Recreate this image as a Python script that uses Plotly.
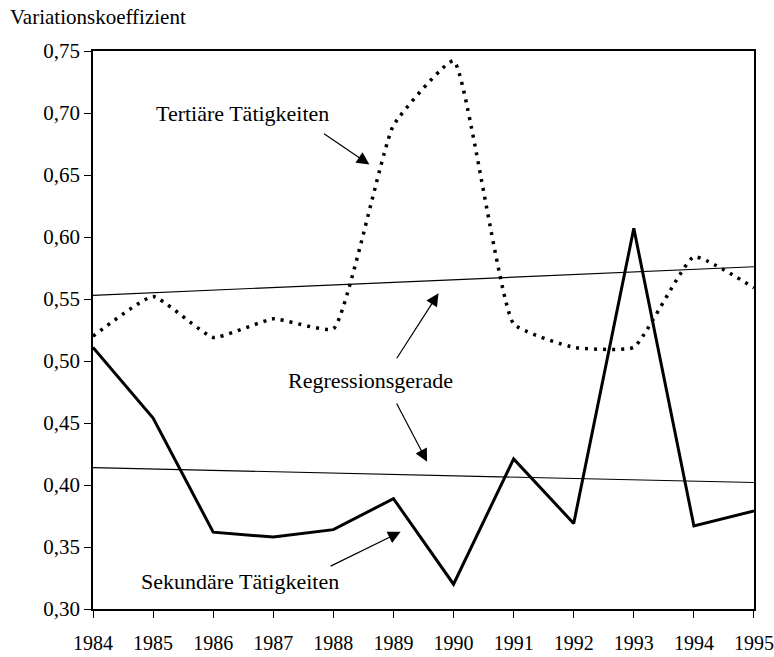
import plotly.graph_objects as go

# values
years = list(range(1984, 1996))
sekundaer = [0.511, 0.454, 0.362, 0.358, 0.364, 0.389, 0.320, 0.421, 0.369, 0.607, 0.367, 0.379]
tertiaer = [0.520, 0.552, 0.519, 0.534, 0.526, 0.690, 0.742, 0.530, 0.511, 0.511, 0.584, 0.559]

# regression lines, endpoints at 1984 and 1995
reg_years = [1984, 1995]
reg_tertiaer = [0.553, 0.576]
reg_sekundaer = [0.414, 0.402]

y_ticks = [0.30, 0.35, 0.40, 0.45, 0.50, 0.55, 0.60, 0.65, 0.70, 0.75]

FONT = "Liberation Serif"

fig = go.Figure()

fig.add_trace(go.Scatter(x=reg_years, y=reg_tertiaer, mode='lines',
                         line=dict(color='black', width=1.2), showlegend=False))
fig.add_trace(go.Scatter(x=reg_years, y=reg_sekundaer, mode='lines',
                         line=dict(color='black', width=1.2), showlegend=False))
fig.add_trace(go.Scatter(x=years, y=tertiaer, mode='lines',
                         line=dict(color='black', width=3.5, dash='3px,6px',
                                   shape='spline', smoothing=0.4),
                         showlegend=False))
fig.add_trace(go.Scatter(x=years, y=sekundaer, mode='lines',
                         line=dict(color='black', width=3), showlegend=False))

# text labels
labels = [
  ("Tertiäre Tätigkeiten", 1986.49, 0.700),
  ("Regressionsgerade", 1988.61, 0.484),
  ("Sekundäre Tätigkeiten", 1986.44, 0.322),
]
for txt, lx, ly in labels:
  fig.add_annotation(x=lx, y=ly, text=txt, showarrow=False,
                     font=dict(family=FONT, size=22, color='black'))

# arrows: (tail x, tail y, tip x, tip y)
arrows = [
  (1987.82, 0.684, 1988.60, 0.6585),
  (1989.04, 0.501, 1989.75, 0.5546),
  (1989.04, 0.467, 1989.56, 0.4188),
  (1987.93, 0.334, 1989.12, 0.3623),
]
for tx, ty, hx, hy in arrows:
  fig.add_annotation(x=hx, y=hy, ax=tx, ay=ty, xref='x', yref='y',
                     axref='x', ayref='y', text='', showarrow=True,
                     arrowhead=2, arrowsize=2.1, arrowwidth=1.2,
                     arrowcolor='black')

fig.add_annotation(x=-0.1286, y=1.061, xref='paper', yref='paper',
                   text="Variationskoeffizient", showarrow=False,
                   xanchor='left', yanchor='middle',
                   font=dict(family=FONT, size=21, color='black'))

fig.update_xaxes(range=[1984, 1995.0001], tickvals=years, ticks='outside',
                 ticklen=7, tickcolor='black', showgrid=False, zeroline=False,
                 showline=True, linecolor='black', linewidth=1.5, mirror=True,
                 ticklabeloverflow='allow', automargin=False,
                 ticklabelstandoff=8,
                 tickfont=dict(family=FONT, size=20, color='black'))
fig.update_yaxes(range=[0.30, 0.75], tickvals=y_ticks, tickformat='.2f',
                 ticksuffix='\u00a0\u00a0\u00a0',
                 ticks='outside', ticklen=7, tickcolor='black',
                 showgrid=False, zeroline=False, showline=True,
                 linecolor='black', linewidth=1.5, mirror=True,
                 automargin=False,
                 tickfont=dict(family=FONT, size=21, color='black'))

fig.update_layout(width=774, height=657, separators=', ',
                  plot_bgcolor='white', paper_bgcolor='white',
                  margin=dict(l=93, r=20, t=51, b=48),
                  font=dict(family=FONT, color='black'))

# drop the default 8px page margin so the figure fills the window
fig.write_html("out.html", config={'displayModeBar': False},
               post_script="document.body.style.margin='0px';")
